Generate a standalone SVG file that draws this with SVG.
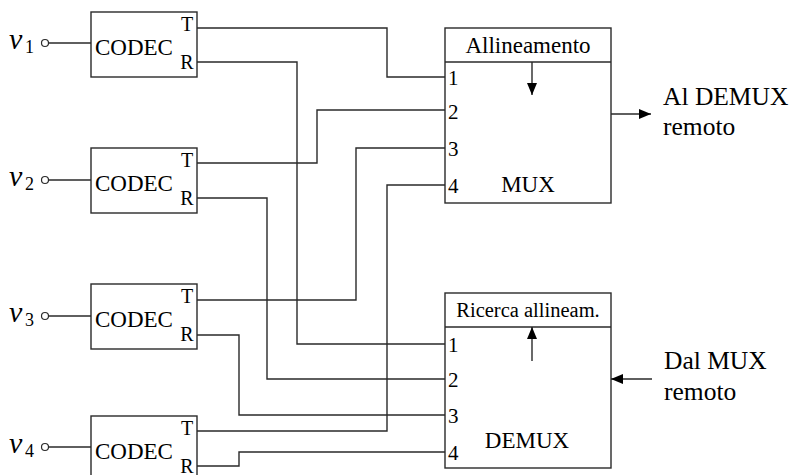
<svg xmlns="http://www.w3.org/2000/svg" width="797" height="475" viewBox="0 0 797 475">
<defs>
<style>
.box{fill:#fff;stroke:#2a2a2a;stroke-width:1.4}
.ln{fill:none;stroke:#2a2a2a;stroke-width:1.4}
.t{font-family:"Liberation Serif","Times New Roman",serif;fill:#000}
.main{font-size:23px}
.tr{font-size:20px;text-anchor:middle}
.num{font-size:21px}
.big{font-size:25.5px}
.v{font-size:30px;font-style:italic}
.sub{font-size:18px}
.term{fill:#fff;stroke:#2a2a2a;stroke-width:1.2}
</style>
<marker id="ah" viewBox="0 0 12 10" refX="12" refY="5" markerWidth="12" markerHeight="10" markerUnits="userSpaceOnUse" orient="auto">
<path d="M0,0 L12,5 L0,10 z" fill="#000"/>
</marker>
</defs>

<g id="codec1">
<rect class="box" x="91" y="12" width="106" height="65"/>
<text class="t main" x="95" y="55">CODEC</text>
<text class="t tr" x="187" y="31">T</text>
<text class="t tr" x="187" y="69">R</text>
<text class="t v" x="9" y="49">v</text><text class="t sub" x="25" y="53">1</text>
<circle class="term" cx="45" cy="43" r="3.5"/>
<line class="ln" x1="48.5" y1="43" x2="91" y2="43"/>
</g>
<g id="codec2">
<rect class="box" x="91" y="148" width="106" height="65"/>
<text class="t main" x="95" y="191">CODEC</text>
<text class="t tr" x="187" y="167">T</text>
<text class="t tr" x="187" y="205">R</text>
<text class="t v" x="9" y="186">v</text><text class="t sub" x="25" y="190">2</text>
<circle class="term" cx="45" cy="180" r="3.5"/>
<line class="ln" x1="48.5" y1="180" x2="91" y2="180"/>
</g>
<g id="codec3">
<rect class="box" x="91" y="284" width="106" height="65"/>
<text class="t main" x="95" y="327">CODEC</text>
<text class="t tr" x="187" y="303">T</text>
<text class="t tr" x="187" y="341">R</text>
<text class="t v" x="9" y="322">v</text><text class="t sub" x="25" y="326">3</text>
<circle class="term" cx="45" cy="316" r="3.5"/>
<line class="ln" x1="48.5" y1="316" x2="91" y2="316"/>
</g>
<g id="codec4">
<rect class="box" x="91" y="416" width="106" height="65"/>
<text class="t main" x="95" y="459">CODEC</text>
<text class="t tr" x="187" y="435">T</text>
<text class="t tr" x="187" y="473">R</text>
<text class="t v" x="9" y="453">v</text><text class="t sub" x="25" y="457">4</text>
<circle class="term" cx="45" cy="447" r="3.5"/>
<line class="ln" x1="48.5" y1="447" x2="91" y2="447"/>
</g>

<g id="mux">
<rect class="box" x="445" y="28" width="166" height="175"/>
<line class="ln" x1="445" y1="62" x2="611" y2="62"/>
<text class="t main" x="528" y="53" text-anchor="middle">Allineamento</text>
<text class="t num" x="448" y="85">1</text>
<text class="t num" x="448" y="119">2</text>
<text class="t num" x="448" y="156">3</text>
<text class="t num" x="448" y="193">4</text>
<text class="t main" x="528" y="192" text-anchor="middle">MUX</text>
<line class="ln" x1="532" y1="62" x2="532" y2="95" marker-end="url(#ah)"/>
</g>

<g id="demux">
<rect class="box" x="445" y="293" width="166" height="175"/>
<line class="ln" x1="445" y1="327" x2="611" y2="327"/>
<text class="t" x="528" y="317" text-anchor="middle" font-size="20.5">Ricerca allineam.</text>
<text class="t num" x="448" y="352">1</text>
<text class="t num" x="448" y="387">2</text>
<text class="t num" x="448" y="423">3</text>
<text class="t num" x="448" y="460">4</text>
<text class="t main" x="527" y="448" text-anchor="middle">DEMUX</text>
<line class="ln" x1="532" y1="361" x2="532" y2="327" marker-end="url(#ah)"/>
</g>

<g id="out">
<text class="t big" x="663" y="105">Al DEMUX</text>
<text class="t big" x="663" y="135">remoto</text>
</g>
<g id="in">
<text class="t big" x="664" y="369">Dal MUX</text>
<text class="t big" x="664" y="400">remoto</text>
</g>

<g id="connectors">
<polyline class="ln" points="197,28 387,28 387,77 445,77"/>
<polyline class="ln" points="197,62 297,62 297,344 445,344"/>
<polyline class="ln" points="197,163 317,163 317,110 445,110"/>
<polyline class="ln" points="197,198 267,198 267,379 445,379"/>
<polyline class="ln" points="197,300 356,300 356,148 445,148"/>
<polyline class="ln" points="197,335 239,335 239,415 445,415"/>
<polyline class="ln" points="197,431 387,431 387,185 445,185"/>
<polyline class="ln" points="197,466 239,466 239,452 445,452"/>
<line class="ln" x1="611" y1="114" x2="651" y2="114" marker-end="url(#ah)"/>
<line class="ln" x1="652" y1="379" x2="611" y2="379" marker-end="url(#ah)"/>
</g>
</svg>
